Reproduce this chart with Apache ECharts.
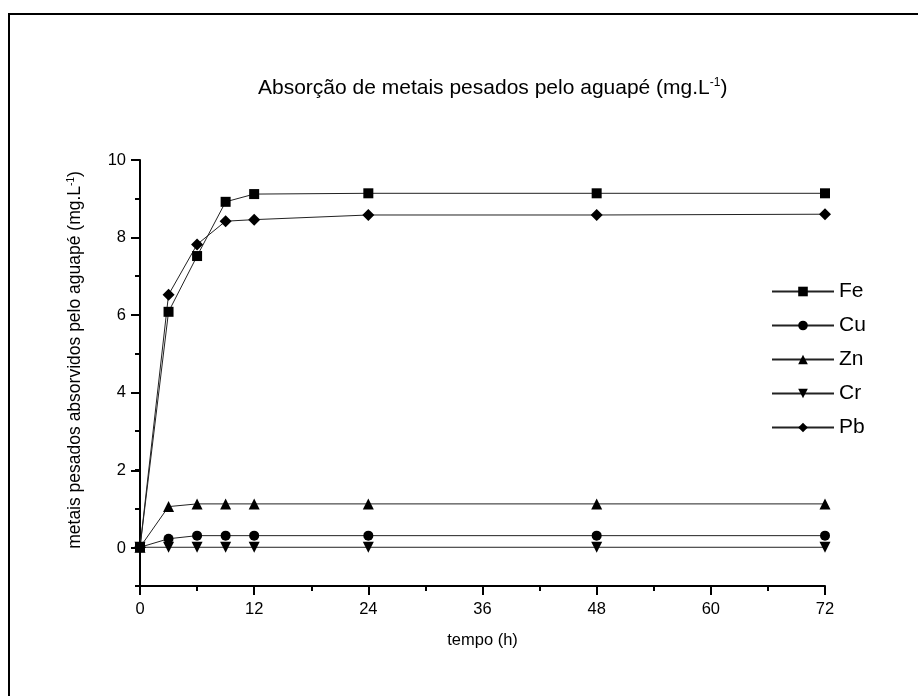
<!DOCTYPE html>
<html>
<head>
<meta charset="utf-8">
<script src="https://cdn.jsdelivr.net/npm/echarts@6.0.0/dist/echarts.min.js"></script>
<style>
    html, body { margin: 0; padding: 0; background: #fff; }
    #chart { width: 918px; height: 696px; }
</style>
</head>
<body>
<div id="chart"></div>
<script>
// tempo (h)
var hours = [0, 3, 6, 9, 12, 24, 48, 72];
var fe = [0, 6.08, 7.52, 8.92, 9.12, 9.14, 9.14, 9.14];
var cu = [0, 0.22, 0.3, 0.3, 0.3, 0.3, 0.3, 0.3];
var zn = [0, 1.05, 1.12, 1.12, 1.12, 1.12, 1.12, 1.12];
var cr = [0, 0, 0, 0, 0, 0, 0, 0];
var pb = [0, 6.52, 7.82, 8.42, 8.46, 8.58, 8.58, 8.6];
var xTicks = [0, 12, 24, 36, 48, 60, 72];
var yTicks = [0, 2, 4, 6, 8, 10];

var font = 'Liberation Sans, Arial, sans-serif';

function pairs(arr) {
    return hours.map(function (h, i) { return [h, arr[i]]; });
}

function makeSeries(name, data, symbol, size, rotate) {
    return {
        name: name,
        type: 'line',
        xAxisIndex: 0,
        yAxisIndex: 0,
        data: pairs(data),
        symbol: symbol,
        symbolSize: size,
        symbolRotate: rotate || 0,
        showAllSymbol: true,
        lineStyle: { color: '#222', width: 1 },
        itemStyle: { color: '#000', borderWidth: 0 },
        emphasis: { disabled: true },
        animation: false,
    };
}

var chart = echarts.init(document.getElementById('chart'));
chart.setOption({
    backgroundColor: '#fff',
    animation: false,
    textStyle: { fontFamily: font },
    title: {
        text: 'Absorção de metais pesados pelo aguapé (mg.L{sup|-1})',
        left: 253,
        top: 72,
        textStyle: {
            fontFamily: font,
            fontSize: 21,
            fontWeight: 'normal',
            color: '#000',
            rich: {
                sup: { fontSize: 12, verticalAlign: 'top', padding: [0, 0, 10, 0], fontFamily: font, color: '#000' }
            }
        }
    },
    legend: {
        orient: 'vertical',
        left: 771,
        top: 281,
        padding: 0,
        itemWidth: 62,
        itemHeight: 12,
        itemGap: 13,
        textStyle: { fontFamily: font, fontSize: 21, color: '#000', padding: [0, 0, 0, 0] },
        data: ['Fe', 'Cu', 'Zn', 'Cr', 'Pb'],
    },
    graphic: [{
        type: 'polyline',
        shape: { points: [[9, 700], [9, 14], [920, 14]] },
        style: { stroke: '#000', lineWidth: 2, fill: null },
        silent: true,
    }],
    grid: [{
        left: 140, right: 93, top: 160, height: 426, containLabel: false,
    }, {
        left: 140, right: 93, top: 160, height: 388, containLabel: false,
    }],
    xAxis: [{
        type: 'value',
        gridIndex: 0,
        min: 0,
        max: 72,
        interval: 12,
        name: 'tempo (h)',
        nameLocation: 'middle',
        nameGap: 46,
        nameTextStyle: { fontFamily: font, fontSize: 16.5, color: '#000' },
        axisLine: { onZero: false, lineStyle: { color: '#000', width: 2 } },
        axisTick: { show: true, inside: false, length: 9, lineStyle: { color: '#000', width: 2 } },
        minorTick: { show: true, splitNumber: 2, length: 5, lineStyle: { color: '#000', width: 2 } },
        axisLabel: {
            margin: 15, fontSize: 16.5, color: '#000', fontFamily: font,
            formatter: function (v) { return xTicks.indexOf(v) >= 0 ? String(v) : ''; }
        },
        splitLine: { show: false },
    }, {
        type: 'value',
        gridIndex: 1,
        min: 0,
        max: 72,
        show: false,
    }],
    yAxis: [{
        type: 'value',
        gridIndex: 0,
        min: -1,
        max: 10,
        interval: 1,
        name: 'metais pesados absorvidos pelo aguapé (mg.L{sup|-1})',
        nameLocation: 'middle',
        nameGap: 56,
        nameTextStyle: {
            fontFamily: font, fontSize: 17.5, color: '#000',
            padding: [0, 0, 0, 26],
            rich: {
                sup: { fontSize: 10, verticalAlign: 'top', padding: [0, 0, 8, 0], fontFamily: font, color: '#000' }
            }
        },
        axisLine: { show: true, onZero: false, lineStyle: { color: '#000', width: 2 } },
        axisTick: { show: true, inside: false, length: 5, lineStyle: { color: '#000', width: 2 } },
        axisLabel: { show: false },
        splitLine: { show: false },
    }, {
        type: 'value',
        gridIndex: 1,
        min: 0,
        max: 10,
        interval: 2,
        axisLine: { show: false },
        axisTick: { show: true, inside: false, length: 9, lineStyle: { color: '#000', width: 2 } },
        axisLabel: {
            margin: 14, fontSize: 16.5, color: '#000', fontFamily: font,
            formatter: function (v) { return yTicks.indexOf(v) >= 0 ? String(v) : ''; }
        },
        splitLine: { show: false },
    }],
    series: [
        makeSeries('Fe', fe, 'rect', 10),
        makeSeries('Cu', cu, 'circle', 10),
        makeSeries('Zn', zn, 'triangle', 11),
        makeSeries('Cr', cr, 'triangle', 11, 180),
        makeSeries('Pb', pb, 'diamond', 12),
    ],
});
</script>
</body>
</html>
